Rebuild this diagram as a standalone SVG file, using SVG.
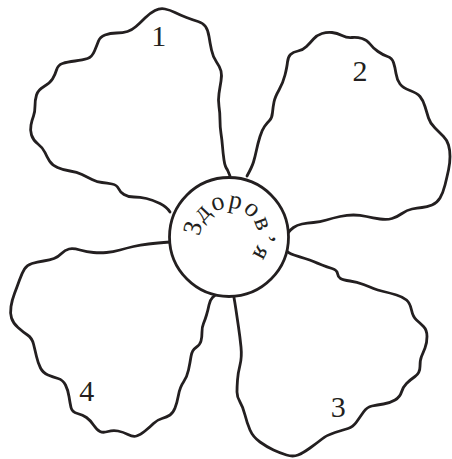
<svg xmlns="http://www.w3.org/2000/svg" width="452" height="459" viewBox="0 0 452 459">
<style>
.petal{fill:none;stroke:#231f20;stroke-width:2.8;stroke-linecap:round;stroke-linejoin:round}
.core{fill:#fff;stroke:#231f20;stroke-width:2.8}
.num{font-family:"Liberation Serif","Times New Roman",serif;font-size:30px;fill:#231f20;text-anchor:middle}
.arc{font-family:"Liberation Serif","Times New Roman",serif;font-size:26px;fill:#231f20;letter-spacing:1.7px}
</style>
<defs>
<path id="textArc" d="M200.44,242.04 A29,29 0 1 1 243.5,262.11"/>
</defs>
<rect width="452" height="459" fill="#fff"/>
<g id="petal1">
<path class="petal" d="M170,212 Q167,207 160,203.5 Q153,200 146.5,198.5 Q140,197 134,197 Q128,197 124,194.5 Q120,192 118.5,188.5 Q117,185 112,184 Q107,183 102,182.5 Q97,182 92,179.5 Q87,177 82,174.5 Q77,172 70,171 Q63,170 57.5,167.5 Q52,165 49.5,161 Q47,157 45,152.5 Q43,148 38,144 Q33,140 31.5,135 Q30,130 31,125 Q32,120 33.5,116 Q35,112 35,106 Q35,100 36.5,95 Q38,90 44,86.5 Q50,83 52.5,79 Q55,75 56.5,70 Q58,65 62.5,63.5 Q67,62 75,61 Q83,60 87.5,58.5 Q92,57 94.5,51 Q97,45 98.5,41 Q100,37 105,35 Q110,33 116.5,33 Q123,33 127.5,31.5 Q132,30 136,26.5 Q140,23 145,18 Q150,13 155,10.5 Q160,8 165,9 Q170,10 175,12.5 Q180,15 186.5,17.5 Q193,20 198,21.5 Q203,23 205.5,26.5 Q208,30 209,36.5 Q210,43 211.5,50 Q213,57 216.5,62 Q220,67 221,71 Q222,75 221,81 Q220,87 219,93.5 Q218,100 219,106.5 Q220,113 220,120 Q220,127 221,133.5 Q222,140 222.5,146.5 Q223,153 224,160 Q225,167 227.5,170 L230,176"/>
<text class="num" x="158.7" y="45.7">1</text>
</g>
<g id="petal2">
<path class="petal" d="M247,176 Q252,167 253.5,162 Q255,157 256.5,150 Q258,143 260,136.5 Q262,130 264.5,126.5 Q267,123 269.5,120.5 Q272,118 272.5,112.5 Q273,107 274,102 Q275,97 279,90 Q283,83 285,75 Q287,67 287.5,62 Q288,57 290.5,54.5 Q293,52 298,51 Q303,50 306.5,46.5 Q310,43 313.5,39 Q317,35 322,33.5 Q327,32 332,32.5 Q337,33 342,35.5 Q347,38 352,37.5 Q357,37 362,38.5 Q367,40 370,44 Q373,48 378,51.5 Q383,55 387.5,56.5 Q392,58 393.5,62.5 Q395,67 396,73.5 Q397,80 400,84 Q403,88 410,90.5 Q417,93 420,96.5 Q423,100 425,106.5 Q427,113 428.5,118 Q430,123 435,128 Q440,133 443.5,136.5 Q447,140 448.5,145 Q450,150 450,156.5 Q450,163 448.5,170 Q447,177 445,185 Q443,193 440,198 Q437,203 432,205 Q427,207 422,207.5 Q417,208 412,209 Q407,210 402,213.5 Q397,217 392,218.5 Q387,220 380,219 Q373,218 366.5,216.5 Q360,215 353.5,215 Q347,215 340,216.5 Q333,218 326.5,220 Q320,222 313.5,222.5 Q307,223 302,224 Q297,225 293.5,227.5 Q290,230 288,233 L286,236"/>
<text class="num" x="360" y="80.7">2</text>
</g>
<g id="petal3">
<path class="petal" d="M233,292 Q235,303 236,310 Q237,317 238.5,327 Q240,337 241,347 Q242,357 240,365 Q238,373 237.5,380 Q237,387 237,392 Q237,397 240,402 Q243,407 245,415 Q247,423 250,430 Q253,437 260,442 Q267,447 273.5,450 Q280,453 286.5,455 Q293,457 298,455 Q303,453 310,448 Q317,443 322,439 Q327,435 335,432.5 Q343,430 348,428.5 Q353,427 356.5,422 Q360,417 363.5,412 Q367,407 372,406 Q377,405 383.5,404 Q390,403 395,400 Q400,397 401.5,392 Q403,387 406.5,383.5 Q410,380 415,376.5 Q420,373 420,366.5 Q420,360 421.5,356.5 Q423,353 425,348 Q427,343 427,336.5 Q427,330 423.5,326.5 Q420,323 416.5,320 Q413,317 411.5,310 Q410,303 406.5,300 Q403,297 396.5,295 Q390,293 383.5,291.5 Q377,290 373.5,288.5 Q370,287 363.5,284.5 Q357,282 350,281 Q343,280 340.5,278.5 Q338,277 337.5,273.5 Q337,270 332,268.5 Q327,267 322,265 Q317,263 313.5,261.5 Q310,260 305,258.5 Q300,257 294,255 Q288,253 286.5,250.5 L285,248"/>
<text class="num" x="338.3" y="416.7">3</text>
</g>
<g id="petal4">
<path class="petal" d="M170,242 Q157,243 148.5,244 Q140,245 133.5,246.5 Q127,248 120,250 Q113,252 106.5,252.5 Q100,253 93.5,252.5 Q87,252 80,250 Q73,248 69,249 Q65,250 61.5,253.5 Q58,257 54,258.5 Q50,260 43.5,261 Q37,262 32,263.5 Q27,265 24.5,269 Q22,273 19.5,280 Q17,287 14.5,293.5 Q12,300 11,306.5 Q10,313 11.5,318 Q13,323 18,327.5 Q23,332 27.5,335 Q32,338 33.5,344 Q35,350 36.5,356.5 Q38,363 40.5,368 Q43,373 48,375 Q53,377 58,378.5 Q63,380 65.5,385 Q68,390 69,396.5 Q70,403 71,407.5 Q72,412 77.5,413.5 Q83,415 86.5,417.5 Q90,420 93.5,425 Q97,430 100,431.5 Q103,433 108,431.5 Q113,430 118,431 Q123,432 128,434.5 Q133,437 136.5,436 Q140,435 145,431 Q150,427 153.5,423.5 Q157,420 162,418.5 Q167,417 170,415 Q173,413 175,408 Q177,403 178.5,395 Q180,387 183.5,382 Q187,377 188.5,370 Q190,363 191,356.5 Q192,350 196,347.5 Q200,345 201,341 Q202,337 202,332 Q202,327 203.5,323.5 Q205,320 206.5,315 Q208,310 209,305 Q210,300 212.5,297.5 Q215,295 218.5,293.5 L222,292"/>
<text class="num" x="86.7" y="400.7">4</text>
</g>
<g id="center">
<circle class="core" cx="229" cy="237" r="59.5"/>
<text class="arc"><textPath href="#textArc" startOffset="5.3">Здоров’я</textPath></text>
</g>
</svg>
